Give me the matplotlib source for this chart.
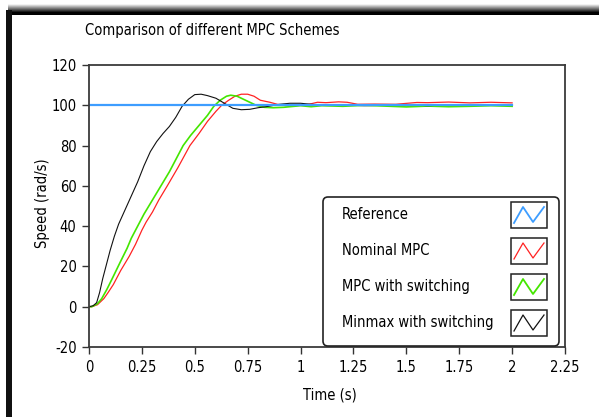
import matplotlib
matplotlib.use("Agg")
import matplotlib.pyplot as plt
from matplotlib.patches import Rectangle, FancyBboxPatch
from matplotlib import font_manager

# speed responses of the three controllers (time in s, speed in rad/s)
ref_t = [0.0, 2.0]
ref_speed = [100, 100]

nominal_t = [0, 0.013, 0.04, 0.07, 0.09, 0.115, 0.15, 0.19, 0.22, 0.25, 0.27, 0.30, 0.33, 0.37,
             0.42, 0.477, 0.52, 0.56, 0.60, 0.627, 0.66, 0.69, 0.72, 0.75, 0.78, 0.81, 0.855,
             0.89, 0.93, 0.97, 1.0, 1.04, 1.08, 1.12, 1.18, 1.22, 1.27, 1.35, 1.45, 1.55, 1.6,
             1.7, 1.8, 1.9, 2.0]
nominal_speed = [0, 0, 1, 4, 7, 11, 18, 25, 31, 38, 42, 47, 53, 60,
                 69, 80, 86, 92, 97, 100, 102.5, 104.5, 105.5, 105.5, 104.5, 102.5, 101.5,
                 100.5, 99.8, 99.8, 100, 100.5, 101.5, 101.3, 101.7, 101.5, 100.5, 100.6, 100.5,
                 101.4, 101.3, 101.6, 101.2, 101.5, 101.2]

switch_t = [0, 0.013, 0.04, 0.06, 0.084, 0.11, 0.147, 0.18, 0.20, 0.23, 0.26, 0.30, 0.34, 0.38,
            0.41, 0.445, 0.48, 0.52, 0.56, 0.59, 0.62, 0.65, 0.67, 0.70, 0.73, 0.76, 0.79, 0.83,
            0.87, 0.92, 0.97, 1.0, 1.05, 1.1, 1.2, 1.3, 1.4, 1.5, 1.6, 1.7, 1.8, 1.9, 2.0]
switch_speed = [0, 0, 1.5, 4, 8.5, 14, 22, 29, 34, 40, 46, 53, 60, 67,
                73, 80, 85, 90, 95, 99.5, 102.5, 104.5, 105, 104.5, 103, 101.5, 100, 99,
                98.8, 99, 99.5, 99.8, 99.3, 99.8, 99.5, 100, 99.6, 99.2, 99.6, 99.3, 99.5, 99.8, 99.5]

minmax_t = [0, 0.02, 0.036, 0.05, 0.065, 0.08, 0.10, 0.12, 0.14, 0.17, 0.20, 0.23, 0.26, 0.29,
            0.32, 0.35, 0.38, 0.41, 0.44, 0.47, 0.50, 0.53, 0.56, 0.60, 0.64, 0.68, 0.72, 0.76,
            0.80, 0.85, 0.90, 0.95, 1.0, 1.05, 1.1, 1.2, 1.3, 1.4, 1.5, 1.6, 1.7, 1.8, 1.9, 2.0]
minmax_speed = [0, 0.5, 2, 7, 14, 20, 28, 35, 41, 48, 55, 62, 70, 77,
                82, 86, 89.5, 94, 99.5, 103, 105.3, 105.5, 104.8, 103.5, 101, 98.5, 97.8, 98,
                98.8, 99.5, 100.5, 101, 101, 100.5, 100, 100.2, 99.8, 100, 100.3, 99.8, 100.2,
                100, 100.3, 100]

labels = ["Reference", "Nominal MPC", "MPC with switching", "Minmax with switching"]
colors = ["#3d9dff", "#ff2222", "#44e600", "#111111"]

x_ticks = [0, 0.25, 0.5, 0.75, 1, 1.25, 1.5, 1.75, 2, 2.25]
x_ticklabels = ["0", "0.25", "0.5", "0.75", "1", "1.25", "1.5", "1.75", "2", "2.25"]
y_ticks = [-20, 0, 20, 40, 60, 80, 100, 120]

condensed = [f for f in font_manager.fontManager.ttflist
             if f.name == "DejaVu Sans" and "condensed" in str(f.stretch)]
plt.rcParams["font.family"] = ["DejaVu Sans"]
plt.rcParams["axes.unicode_minus"] = False
if condensed:
    plt.rcParams["font.stretch"] = "condensed"
    fs = 10.5
else:
    fs = 9.8

W, H = 599, 417
fig = plt.figure(figsize=(W / 100, H / 100), dpi=100)

def fx(px):
    return px / W

def fy(py):
    return 1 - py / H

# window frame: shaded top edge and dark left edge
for i in range(8):
    g = 0.95 - i * 0.12
    fig.patches.append(Rectangle((fx(8), fy(4 + i + 1)), 1, 1 / H, transform=fig.transFigure,
                                 facecolor=(max(g, 0),) * 3, edgecolor="none"))
fig.patches.append(Rectangle((fx(8), fy(15)), 1, 3 / H, transform=fig.transFigure,
                             facecolor="black", edgecolor="none"))
fig.patches.append(Rectangle((fx(6), 0), 6 / W, fy(10), transform=fig.transFigure,
                             facecolor="#111111", edgecolor="none"))

ax = fig.add_axes([fx(89), fy(347), (565 - 89) / W, (347 - 65) / H])
ax.plot(nominal_t, nominal_speed, color=colors[1], lw=0.9)
ax.plot(switch_t, switch_speed, color=colors[2], lw=1.2)
ax.plot(minmax_t, minmax_speed, color=colors[3], lw=0.8)
ax.plot(ref_t, ref_speed, color=colors[0], lw=1.6)

ax.set_xlim(0, 2.25)
ax.set_ylim(-20, 120)
ax.set_xticks(x_ticks)
ax.set_xticklabels(x_ticklabels)
ax.set_yticks(y_ticks)
for s in ax.spines.values():
    s.set_color("#3a3a3a")
    s.set_linewidth(1.3)
ax.tick_params(direction="out", length=5, width=1, color="#333333", labelsize=fs, pad=4)

fig.text(fx(85), fy(30), "Comparison of different MPC Schemes", fontsize=fs, va="center", ha="left")
fig.text(fx(42), fy(203), "Speed (rad/s)", fontsize=fs, rotation=90, va="center", ha="center")
fig.text(fx(330), fy(395), "Time (s)", fontsize=fs, va="center", ha="center")

# legend panel drawn in pixel units
lx0, ly0, lw_, lh = 322, 196, 238, 151
lax = fig.add_axes([fx(lx0), fy(ly0 + lh), lw_ / W, lh / H])
lax.set_xlim(0, lw_)
lax.set_ylim(lh, 0)
lax.axis("off")
lax.add_patch(FancyBboxPatch((1, 1), lw_ - 2, lh - 2, boxstyle="round,pad=0,rounding_size=5",
                             facecolor="white", edgecolor="#222222", lw=1.2, clip_on=False))
for k, (lab, col) in enumerate(zip(labels, colors)):
    yc = 19 + 36 * k
    lax.text(20, yc, lab, fontsize=fs, va="center", ha="left")
    lax.add_patch(Rectangle((189, yc - 13), 36, 26, facecolor="white", edgecolor="#222222", lw=1.1))
    lax.plot([192, 201, 211, 222], [yc + 8, yc - 8, yc + 7, yc - 8], color=col,
             lw=1.3 if k in (0, 2) else 0.9)

fig.savefig("out.png", dpi=100)
